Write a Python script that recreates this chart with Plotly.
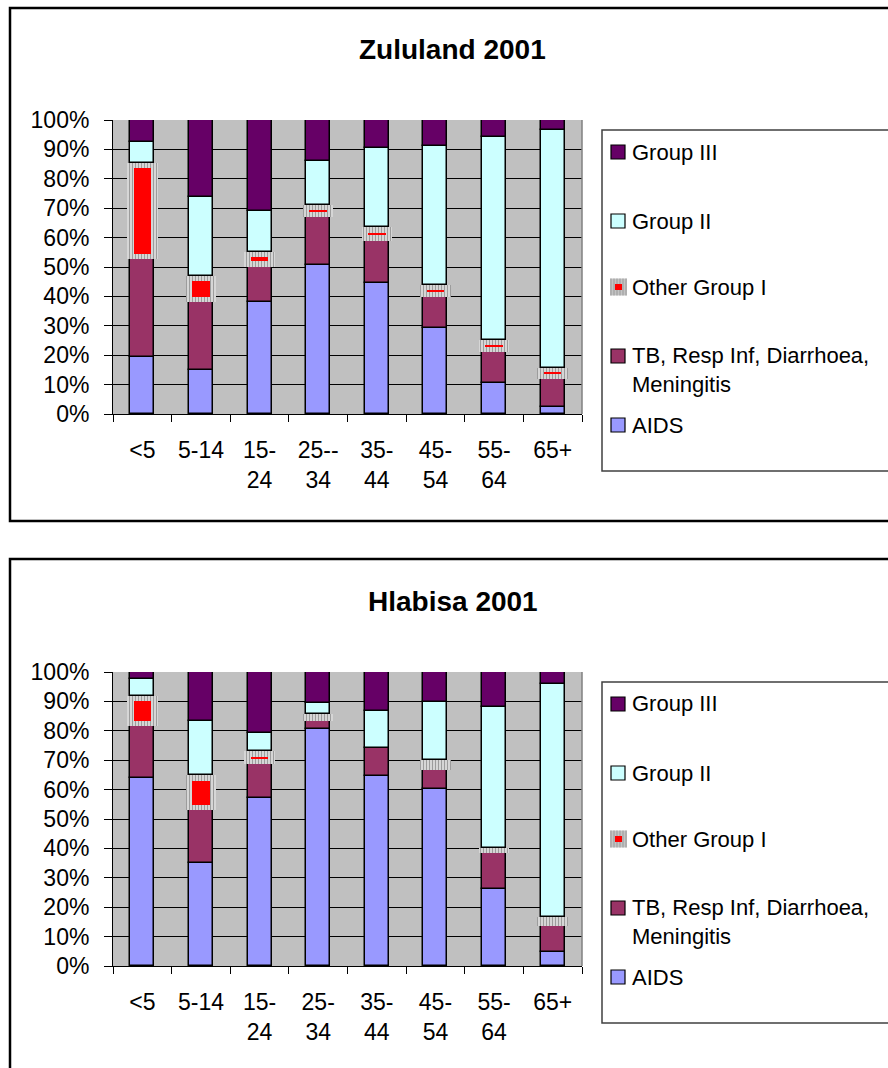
import numpy as np
import plotly.graph_objects as go

# ---- data (percent of deaths by cause, per age group) ----
age_groups = ["<5", "5-14", "15-24", "25-34", "35-44", "45-54", "55-64", "65+"]
zulu_ticks = ["<5", "5-14", "15-<br>24", "25--<br>34", "35-<br>44", "45-<br>54", "55-<br>64", "65+"]
hlab_ticks = ["<5", "5-14", "15-<br>24", "25-<br>34", "35-<br>44", "45-<br>54", "55-<br>64", "65+"]

zulu_aids = [19.4, 15.1, 38.1, 50.7, 44.4, 29.3, 10.4, 2.5]
zulu_tb = [33.3, 23.0, 12.0, 16.4, 14.6, 10.6, 10.8, 9.3]
zulu_other = [32.8, 9.0, 5.1, 3.9, 4.5, 4.1, 4.0, 4.0]
zulu_g2 = [6.9, 26.8, 14.0, 15.1, 26.9, 47.0, 69.1, 80.8]
zulu_g3 = [7.6, 26.1, 30.8, 13.9, 9.6, 9.0, 5.7, 3.4]

hlab_aids = [64.1, 35.2, 57.1, 80.5, 64.7, 60.3, 26.2, 4.7]
hlab_tb = [17.4, 17.7, 11.6, 3.0, 9.4, 6.2, 12.2, 9.0]
hlab_other = [10.4, 11.9, 4.3, 2.2, 0.0, 3.4, 1.9, 2.8]
hlab_g2 = [5.6, 18.7, 6.2, 3.6, 12.7, 19.9, 47.7, 79.5]
hlab_g3 = [2.5, 16.5, 20.8, 10.7, 13.2, 10.2, 12.0, 4.0]

series_names = ["Group III", "Group II", "Other Group I",
                "TB, Resp Inf, Diarrhoea,<br>Meningitis", "AIDS"]

# ---- styling ----
W, H = 888, 1068
FONT = "Arial, 'Liberation Sans', sans-serif"
C_AIDS = "#9999FF"
C_TB = "#993366"
C_G2 = "#CCFFFF"
C_G3 = "#660066"
C_RED = "#FF0000"
BAR_W = 0.41
HATCH_W = 0.52
RED_W = 0.30
PLOT_PX = 294.0                       # pixel height of the 0-100% scale
INSET = 5.4 / PLOT_PX * 100           # red inset inside the hatched segment


def px(x):
    return x / W


def py(y):
    return 1 - y / H


fig = go.Figure()


def add_chart(xa, ya, aids, tb, other, g2, g3):
    aids, tb, other, g2, g3 = map(np.asarray, (aids, tb, other, g2, g3))
    b_tb = aids
    b_other = aids + tb
    b_g2 = b_other + other
    b_g3 = b_g2 + g2
    solid_line = dict(color="black", width=1.5)
    common = dict(x=age_groups, xaxis=xa, yaxis=ya, showlegend=False,
                  hoverinfo="skip")
    fig.add_trace(go.Bar(y=aids, base=np.zeros(len(aids)), width=BAR_W,
                         marker=dict(color=C_AIDS, line=solid_line), **common))
    fig.add_trace(go.Bar(y=tb, base=b_tb, width=BAR_W,
                         marker=dict(color=C_TB, line=solid_line), **common))
    # hatched grey block for "Other Group I"
    fig.add_trace(go.Bar(y=other, base=b_other, width=HATCH_W,
                         marker=dict(color="#9C9C9C", line=dict(width=0),
                                     pattern=dict(shape="|", fgcolor="#9C9C9C",
                                                  bgcolor="#E2E2E2", size=3,
                                                  solidity=0.45)),
                         **common))
    # red core of the "Other Group I" block
    red_h = other - 2 * INSET
    red_y = np.where(red_h > 0, red_h, np.nan)
    fig.add_trace(go.Bar(y=red_y, base=b_other + INSET, width=RED_W,
                         marker=dict(color=C_RED, line=dict(width=0)), **common))
    fig.add_trace(go.Bar(y=g2, base=b_g2, width=BAR_W,
                         marker=dict(color=C_G2, line=solid_line), **common))
    fig.add_trace(go.Bar(y=g3, base=b_g3, width=BAR_W,
                         marker=dict(color=C_G3, line=solid_line), **common))


add_chart("x", "y", zulu_aids, zulu_tb, zulu_other, zulu_g2, zulu_g3)
add_chart("x2", "y2", hlab_aids, hlab_tb, hlab_other, hlab_g2, hlab_g3)

x_dom = [px(113), px(582)]
y_dom_top = [py(414), py(120)]
y_dom_bot = [py(966), py(672)]


def xaxis_cfg(ticktext, anchor):
    return dict(domain=x_dom, anchor=anchor, type="category",
                categoryorder="array", categoryarray=age_groups,
                tickvals=age_groups, ticktext=ticktext,
                range=[-0.5, len(age_groups) - 0.5],
                tickson="boundaries", ticks="outside", ticklen=7,
                tickcolor="black", tickwidth=1,
                showline=True, linecolor="black", linewidth=1,
                showgrid=False, zeroline=False, automargin=False,
                tickfont=dict(family=FONT, size=23, color="black"),
                ticklabelstandoff=15)


def yaxis_cfg(domain, anchor):
    return dict(domain=domain, anchor=anchor, range=[0, 100],
                tick0=0, dtick=10, ticksuffix="%",
                ticks="outside", ticklen=8, tickcolor="black", tickwidth=1,
                showline=True, linecolor="black", linewidth=1,
                showgrid=True, gridcolor="black", gridwidth=1,
                zeroline=False, automargin=False,
                tickfont=dict(family=FONT, size=23, color="black"),
                ticklabelstandoff=10)


shapes = []
annotations = []

# chart frames (run off the right/bottom edge of the page)
for top, bottom in [(8, 521), (559, 1080)]:
    shapes.append(dict(type="rect", xref="paper", yref="paper",
                       x0=px(10), x1=px(900), y0=py(bottom), y1=py(top),
                       line=dict(color="black", width=2.5), layer="below"))

# grey right edge of each plot area
for xa, ya in [("x", "y"), ("x2", "y2")]:
    shapes.append(dict(type="line", xref=f"{xa} domain", yref=f"{ya} domain",
                       x0=1, x1=1, y0=0, y1=1,
                       line=dict(color="#808080", width=1.5)))

# titles
for title, yc in [("Zululand 2001", 49), ("Hlabisa 2001", 601)]:
    annotations.append(dict(text=f"<b>{title}</b>", xref="paper", yref="paper",
                            x=px(453), y=py(yc), xanchor="center", yanchor="middle",
                            showarrow=False,
                            font=dict(family=FONT, size=28, color="black")))

# legends
legend_rows = [(152, 152), (221, 221), (287, 287), (356, 370), (425, 425)]
swatch_colors = [C_G3, C_G2, None, C_TB, C_AIDS]
for offset in (0, 552):
    shapes.append(dict(type="rect", xref="paper", yref="paper",
                       x0=px(602), x1=px(900), y0=py(471 + offset), y1=py(130 + offset),
                       line=dict(color="#404040", width=1.5), layer="below"))
    for name, (ys, yt), col in zip(series_names, legend_rows, swatch_colors):
        ys += offset
        yt += offset
        if col is None:
            shapes.append(dict(type="rect", xref="paper", yref="paper",
                               x0=px(610), x1=px(627), y0=py(ys + 8.5), y1=py(ys - 8.5),
                               fillcolor="#C4C4C4", line=dict(width=0)))
            for sx in np.arange(611, 627, 3):
                shapes.append(dict(type="line", xref="paper", yref="paper",
                                   x0=px(sx), x1=px(sx), y0=py(ys + 8.5), y1=py(ys - 8.5),
                                   line=dict(color="#9A9A9A", width=1)))
            shapes.append(dict(type="rect", xref="paper", yref="paper",
                               x0=px(615), x1=px(622), y0=py(ys + 3), y1=py(ys - 3),
                               fillcolor=C_RED, line=dict(width=0)))
        else:
            shapes.append(dict(type="rect", xref="paper", yref="paper",
                               x0=px(611), x1=px(625), y0=py(ys + 7), y1=py(ys - 7),
                               fillcolor=col, line=dict(color="black", width=1.2)))
        annotations.append(dict(text=name, xref="paper", yref="paper",
                                x=px(630), y=py(yt), xanchor="left", yanchor="middle",
                                align="left", showarrow=False,
                                font=dict(family=FONT, size=22, color="black")))

fig.update_layout(
    template="none",
    width=W, height=H,
    margin=dict(l=0, r=0, t=0, b=0, pad=0),
    paper_bgcolor="white",
    plot_bgcolor="#C0C0C0",
    barmode="overlay",
    bargap=0,
    showlegend=False,
    xaxis=xaxis_cfg(zulu_ticks, "y"),
    yaxis=yaxis_cfg(y_dom_top, "x"),
    xaxis2=xaxis_cfg(hlab_ticks, "y2"),
    yaxis2=yaxis_cfg(y_dom_bot, "x2"),
    shapes=shapes,
    annotations=annotations,
    font=dict(family=FONT, color="black"),
)

fig.write_html("out.html")
